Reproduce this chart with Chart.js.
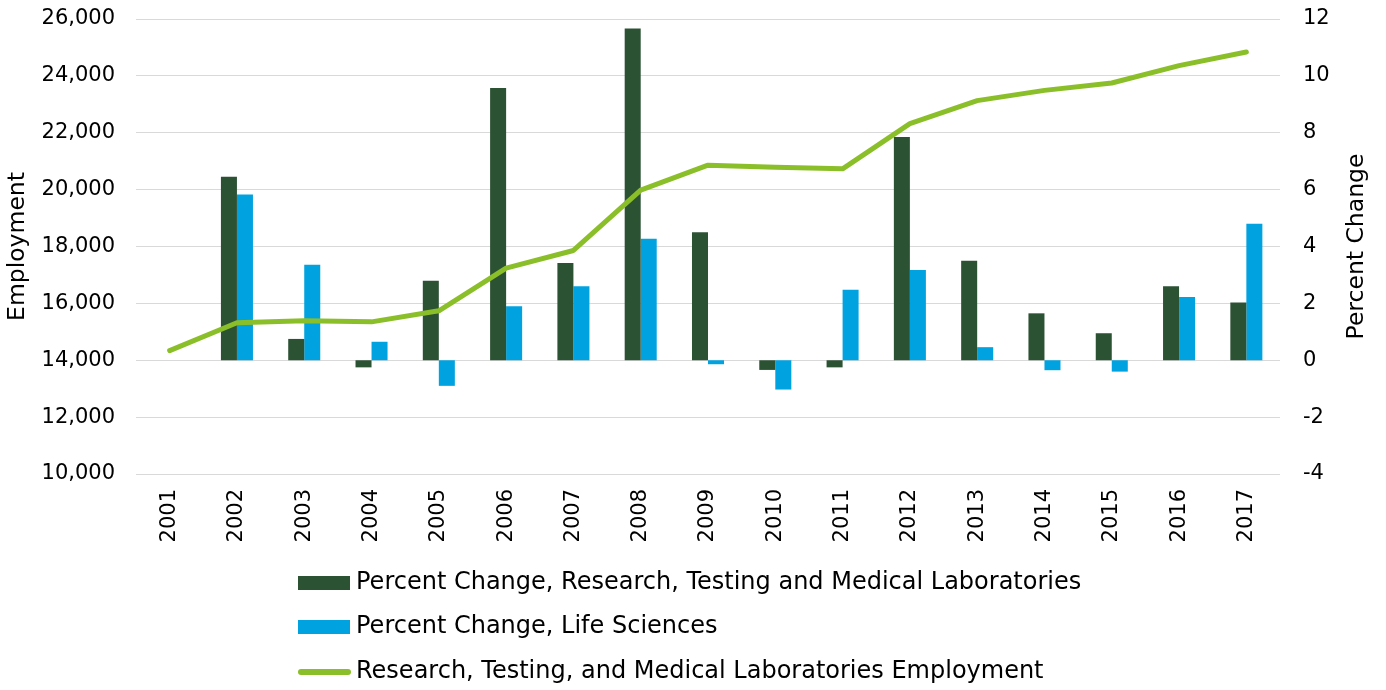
<!DOCTYPE html>
<html>
<head>
<meta charset="utf-8">
<script src="https://cdn.jsdelivr.net/npm/chart.js@4.4.1/dist/chart.umd.min.js"></script>
<style>
  html, body { margin: 0; padding: 0; background: #fff; }
  #wrap { width: 1386px; height: 690px; position: relative; }
</style>
</head>
<body>
<div id="wrap"><canvas id="chart"></canvas></div>
<script>
// Years on the category axis
const years = ['2001','2002','2003','2004','2005','2006','2007','2008','2009',
               '2010','2011','2012','2013','2014','2015','2016','2017'];

// Year-over-year percent change, research/testing/medical labs
const labPctChange = [null, 6.45, 0.75, -0.25, 2.8, 9.57, 3.42, 11.67, 4.5,
                      -0.34, -0.25, 7.85, 3.5, 1.65, 0.95, 2.6, 2.03];

// Year-over-year percent change, life sciences
const lifeSciPctChange = [null, 5.83, 3.36, 0.65, -0.9, 1.9, 2.6, 4.27, -0.14,
                          -1.03, 2.48, 3.17, 0.46, -0.35, -0.4, 2.22, 4.8];

// Total employment in research, testing and medical laboratories
const labEmployment = [14340, 15320, 15390, 15350, 15740, 17240, 17860, 19980, 20860,
                       20790, 20730, 22320, 23130, 23490, 23750, 24360, 24840];

// Axis ranges and tick steps
const employmentTicks = { min: 10000, max: 26000, step: 2000 };
const pctTicks = { min: -4, max: 12, step: 2 };

const seriesNames = [
  'Percent Change, Research, Testing and Medical Laboratories',
  'Percent Change, Life Sciences',
  'Research, Testing, and Medical Laboratories Employment'
];

const COLORS = { lab: '#2c5234', life: '#00a3e0', line: '#8bbf2a', grid: '#d9d9d9', text: '#000000' };
const FONT = '"DejaVu Sans", Verdana, sans-serif';

// Legend drawn as a vertical list under the plot, plus a right-hand axis
// title that reads bottom-to-top like the left one.
const extrasPlugin = {
  id: 'extras',
  afterDraw(chart) {
    const ctx = chart.ctx;
    const area = chart.chartArea;
    ctx.save();

    // right axis title
    ctx.font = '23.5px ' + FONT;
    ctx.fillStyle = COLORS.text;
    ctx.textAlign = 'center';
    ctx.textBaseline = 'middle';
    ctx.translate(1357, (area.top + area.bottom) / 2);
    ctx.rotate(-Math.PI / 2);
    ctx.fillText('Percent Change', 0, 0);
    ctx.setTransform(1, 0, 0, 1, 0, 0);

    // legend
    ctx.font = '24px ' + FONT;
    const swatchW = 52, gap = 6;
    const widest = Math.max(...chart.data.datasets.map(d => ctx.measureText(d.label).width));
    const left = Math.round(690 - (swatchW + gap + widest) / 2);
    const rowY = [583, 627, 672];
    chart.data.datasets.forEach((ds, i) => {
      const y = rowY[i];
      if (ds.type === 'line') {
        ctx.strokeStyle = ds.borderColor;
        ctx.lineWidth = 6;
        ctx.lineCap = 'round';
        ctx.beginPath();
        ctx.moveTo(left + 3, y);
        ctx.lineTo(left + swatchW - 2, y);
        ctx.stroke();
      } else {
        ctx.fillStyle = ds.backgroundColor;
        ctx.fillRect(left, y - 7, swatchW, 14);
      }
      ctx.fillStyle = COLORS.text;
      ctx.textAlign = 'left';
      ctx.textBaseline = 'middle';
      ctx.fillText(ds.label, left + swatchW + gap, y);
    });
    ctx.restore();
  }
};

// vertical axes: fixed widths, and no extra top/bottom room for tick labels
function fixVertical(width) {
  return function (scale) {
    scale.width = width;
    scale.paddingTop = 0;
    scale.paddingBottom = 0;
  };
}

new Chart(document.getElementById('chart'), {
  data: {
    labels: years,
    datasets: [
      {
        type: 'bar',
        label: seriesNames[0],
        data: labPctChange,
        yAxisID: 'pct',
        backgroundColor: COLORS.lab,
        categoryPercentage: 0.476,
        barPercentage: 1.0,
        order: 2
      },
      {
        type: 'bar',
        label: seriesNames[1],
        data: lifeSciPctChange,
        yAxisID: 'pct',
        backgroundColor: COLORS.life,
        categoryPercentage: 0.476,
        barPercentage: 1.0,
        order: 2
      },
      {
        type: 'line',
        label: seriesNames[2],
        data: labEmployment,
        yAxisID: 'emp',
        borderColor: COLORS.line,
        backgroundColor: COLORS.line,
        borderWidth: 5,
        borderCapStyle: 'round',
        borderJoinStyle: 'round',
        pointRadius: 0,
        tension: 0,
        fill: false,
        order: 1
      }
    ]
  },
  options: {
    responsive: true,
    maintainAspectRatio: false,
    animation: false,
    layout: { padding: { top: 19, bottom: 0, left: 0, right: 0 } },
    plugins: {
      legend: { display: false },
      tooltip: { enabled: false }
    },
    scales: {
      x: {
        offset: true,
        grid: { display: false, drawTicks: false },
        border: { display: false },
        ticks: {
          color: COLORS.text,
          font: { family: FONT, size: 21 },
          minRotation: 90,
          maxRotation: 90,
          padding: 15
        },
        afterFit(scale) { scale.height = 216; }
      },
      emp: {
        type: 'linear',
        position: 'left',
        min: employmentTicks.min,
        max: employmentTicks.max,
        grid: { color: COLORS.grid, lineWidth: 1, drawTicks: false },
        border: { display: false },
        ticks: {
          stepSize: employmentTicks.step,
          color: COLORS.text,
          font: { family: FONT, size: 21 },
          padding: 21,
          callback: v => v.toLocaleString('en-US')
        },
        title: {
          display: true,
          text: 'Employment',
          color: COLORS.text,
          font: { family: FONT, size: 23.5 },
          padding: { top: 4, bottom: 0 }
        },
        afterFit: fixVertical(136)
      },
      pct: {
        type: 'linear',
        position: 'right',
        min: pctTicks.min,
        max: pctTicks.max,
        grid: { display: false, drawTicks: false },
        border: { display: false },
        ticks: {
          stepSize: pctTicks.step,
          color: COLORS.text,
          font: { family: FONT, size: 21 },
          padding: 23
        },
        afterFit: fixVertical(106)
      }
    }
  },
  plugins: [extrasPlugin]
});
</script>
</body>
</html>
